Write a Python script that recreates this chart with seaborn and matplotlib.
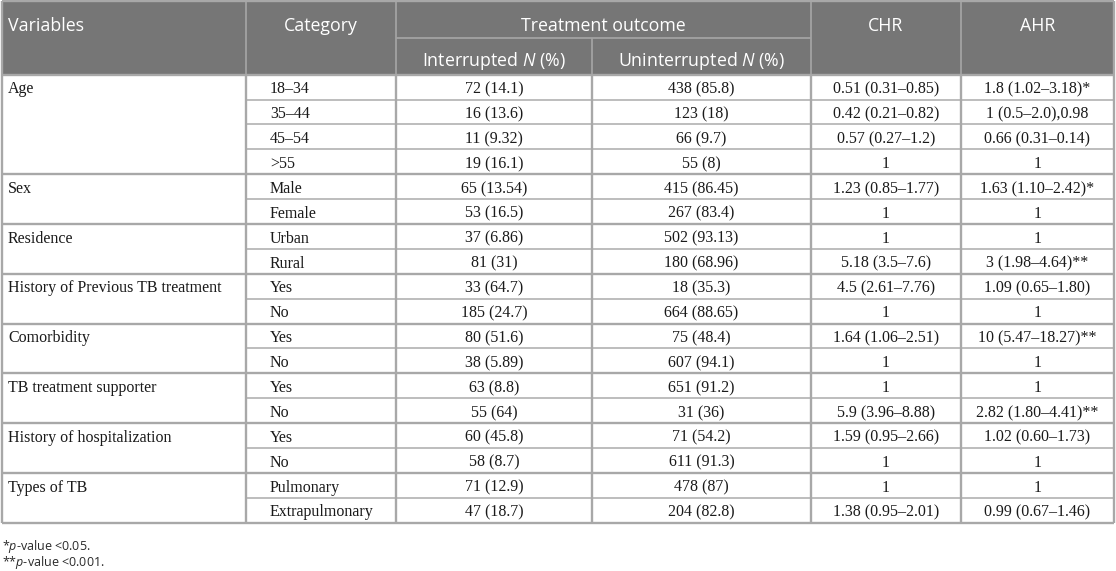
import matplotlib

matplotlib.use("Agg")
import matplotlib.pyplot as plt
import numpy as np
import pandas as pd
import seaborn as sns

# --------------------------------------------------------------------------- #
# Table content
# --------------------------------------------------------------------------- #
variables = ["Age", "Sex", "Residence", "History of Previous TB treatment",
             "Comorbidity", "TB treatment supporter", "History of hospitalization",
             "Types of TB"]
group_sizes = [4, 2, 2, 2, 2, 2, 2, 2]
categories = ["18–34", "35–44", "45–54", ">55", "Male", "Female", "Urban", "Rural",
              "Yes", "No", "Yes", "No", "Yes", "No", "Yes", "No",
              "Pulmonary", "Extrapulmonary"]
int_n = [72, 16, 11, 19, 65, 53, 37, 81, 33, 185, 80, 38, 63, 55, 60, 58, 71, 47]
int_pct = [14.1, 13.6, 9.32, 16.1, 13.54, 16.5, 6.86, 31, 64.7, 24.7, 51.6, 5.89,
           8.8, 64, 45.8, 8.7, 12.9, 18.7]
unint_n = [438, 123, 66, 55, 415, 267, 502, 180, 18, 664, 75, 607, 651, 31, 71,
           611, 478, 204]
unint_pct = [85.8, 18, 9.7, 8, 86.45, 83.4, 93.13, 68.96, 35.3, 88.65, 48.4, 94.1,
             91.2, 36, 54.2, 91.3, 87, 82.8]
chr_vals = ["0.51 (0.31–0.85)", "0.42 (0.21–0.82)", "0.57 (0.27–1.2)", "1",
            "1.23 (0.85–1.77)", "1", "1", "5.18 (3.5–7.6)", "4.5 (2.61–7.76)", "1",
            "1.64 (1.06–2.51)", "1", "1", "5.9 (3.96–8.88)", "1.59 (0.95–2.66)", "1",
            "1", "1.38 (0.95–2.01)"]
ahr_vals = ["1.8 (1.02–3.18)*", "1 (0.5–2.0),0.98", "0.66 (0.31–0.14)", "1",
            "1.63 (1.10–2.42)*", "1", "1", "3 (1.98–4.64)**", "1.09 (0.65–1.80)", "1",
            "10 (5.47–18.27)**", "1", "1", "2.82 (1.80–4.41)**", "1.02 (0.60–1.73)",
            "1", "1", "0.99 (0.67–1.46)"]
footnotes = ["*$p$-value <0.05.", "**$p$-value <0.001."]

df = pd.DataFrame({
    "category": categories,
    "interrupted": [f"{n} ({p:g})" for n, p in zip(int_n, int_pct)],
    "uninterrupted": [f"{n} ({p:g})" for n, p in zip(unint_n, unint_pct)],
    "chr": chr_vals,
    "ahr": ahr_vals,
})

# --------------------------------------------------------------------------- #
# Layout (pixel coordinates, y grows downward)
# --------------------------------------------------------------------------- #
col_x = [2, 246, 396, 592, 811, 961, 1114]
head_top, head_mid, head_bot = 1, 37.5, 74.7
row_h = (522.7 - head_bot) / len(categories)
row_top = head_bot + row_h * np.arange(len(categories) + 1)

HEAD_BG = "#767676"
HEAD_LINE = "#a3a3a3"
GRID = "#bdbdbd"
GROUP = "#a8a8a8"
TXT = "#1a1a1a"

sns.set_theme(style="white")
plt.rcParams["mathtext.fontset"] = "custom"
plt.rcParams["mathtext.rm"] = "Open Sans"
plt.rcParams["mathtext.it"] = "Open Sans:italic"

fig = plt.figure(figsize=(11.16, 5.71), dpi=100)
ax = fig.add_axes([0, 0, 1, 1])
ax.set_xlim(0, 1116)
ax.set_ylim(571, 0)
ax.axis("off")

# header block
ax.fill_between([col_x[0], col_x[-1]], head_top, head_bot, color=HEAD_BG, lw=0)
ax.vlines([col_x[1], col_x[2], col_x[4], col_x[5]], head_top, head_bot, color=HEAD_LINE, lw=1.3)
ax.vlines([col_x[3]], head_mid, head_bot, color=HEAD_LINE, lw=1.3)
ax.hlines([head_mid], col_x[2], col_x[4], color=HEAD_LINE, lw=1.3)

hfont = dict(family="Open Sans", size=12.8, color="white")
ax.text(8, 31, "Variables", ha="left", va="baseline", **hfont)
ax.text((col_x[1] + col_x[2]) / 2, 31, "Category", ha="center", va="baseline", **hfont)
ax.text((col_x[2] + col_x[4]) / 2, 31, "Treatment outcome", ha="center", va="baseline", **hfont)
ax.text((col_x[4] + col_x[5]) / 2, 31, "CHR", ha="center", va="baseline", **hfont)
ax.text((col_x[5] + col_x[6]) / 2, 31, "AHR", ha="center", va="baseline", **hfont)
ax.text((col_x[2] + col_x[3]) / 2, 66.5, "Interrupted $N$ (%)", ha="center", va="baseline", **hfont)
ax.text((col_x[3] + col_x[4]) / 2, 66.5, "Uninterrupted $N$ (%)", ha="center", va="baseline", **hfont)

# body grid
group_start = np.concatenate([[0], np.cumsum(group_sizes)])
inner_rows = [i for i in range(1, len(categories)) if i not in group_start]
ax.hlines(row_top[inner_rows], col_x[1], col_x[-1], color=GRID, lw=1.4)
ax.hlines(row_top[group_start], col_x[0], col_x[-1], color=GROUP, lw=1.7)
ax.vlines(col_x, head_bot, row_top[-1], color=GROUP, lw=1.7)
ax.vlines([col_x[0], col_x[-1]], head_top, head_bot, color=GROUP, lw=1.7)
ax.hlines([head_top], col_x[0], col_x[-1], color=GROUP, lw=1.7)

bfont = dict(family="Liberation Serif", size=11.5, color=TXT)
for var, start in zip(variables, group_start[:-1]):
    ax.text(8, row_top[start] + 0.75 * row_h, var, ha="left", va="baseline", **bfont)

centers = [(col_x[i] + col_x[i + 1]) / 2 for i in range(2, 6)]
for i, row in df.iterrows():
    y = row_top[i] + 0.75 * row_h
    ax.text(col_x[1] + 24, y, row["category"], ha="left", va="baseline", **bfont)
    for cx, key in zip(centers, ["interrupted", "uninterrupted", "chr", "ahr"]):
        ax.text(cx, y, row[key], ha="center", va="baseline", **bfont)

ffont = dict(family="Open Sans", size=9, color="#2a2a2a")
for y, note in zip([550, 566], footnotes):
    ax.text(2, y, note, ha="left", va="baseline", **ffont)

fig.savefig("out.png", dpi=100)
plt.close(fig)
